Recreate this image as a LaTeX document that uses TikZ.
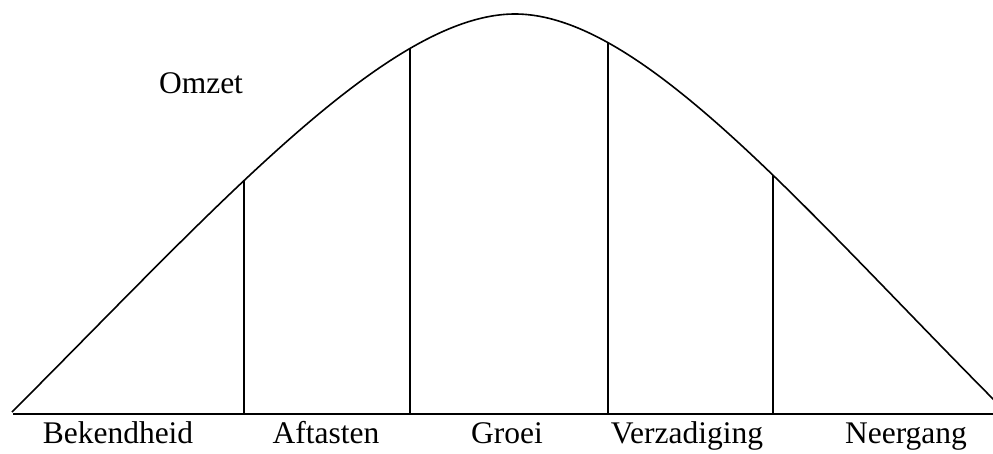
\documentclass[tikz,border=0pt]{standalone}
\usepackage{fontspec}
\setmainfont{Liberation Serif}
\usetikzlibrary{intersections}
\begin{document}
\begin{tikzpicture}[x=1pt,y=-1pt,
  lijn/.style={line width=1.6pt,black},
  fase/.style={anchor=base,inner sep=0pt,font=\fontsize{31.5}{36}\selectfont}]
\useasboundingbox (0,0) rectangle (993,453);
\coordinate (start) at (12,412);
\coordinate (top) at (515,14);
\coordinate (eind) at (1008,414);
\coordinate (bl) at (13,414);
\coordinate (br) at (993,414);
\coordinate (b1) at (244,414);
\coordinate (b2) at (410,414);
\coordinate (b3) at (608,414);
\coordinate (b4) at (773,414);
% baseline
\draw[lijn] (bl) -- (br);
% curve
\begin{scope}
\clip (0,0) rectangle (993,453);
\draw[lijn,name path global=curve] (start) .. controls (215,209) and (388,14) .. (top)
  .. controls (643,14) and (808,214) .. (eind);
\end{scope}
% vertical lines up to the curve
\path[name path=v1] (244,0) -- (b1);
\path[name path=v2] (410,0) -- (b2);
\path[name path=v3] (608,0) -- (b3);
\path[name path=v4] (773,0) -- (b4);
\path[name intersections={of=curve and v1,by=t1}];
\path[name intersections={of=curve and v2,by=t2}];
\path[name intersections={of=curve and v3,by=t3}];
\path[name intersections={of=curve and v4,by=t4}];
\draw[lijn] (b1) -- (t1);
\draw[lijn] (b2) -- (t2);
\draw[lijn] (b3) -- (t3);
\draw[lijn] (b4) -- (t4);
% labels
\node[fase] (omzet) at (201,93) {Omzet};
\node[fase] (l1) at (118,443) {Bekendheid};
\node[fase] (l2) at (326,443) {Aftasten};
\node[fase] (l3) at (507,443) {Groei};
\node[fase] (l4) at (687,443) {Verzadiging};
\node[fase] (l5) at (906,443) {Neergang};
\end{tikzpicture}
\end{document}
